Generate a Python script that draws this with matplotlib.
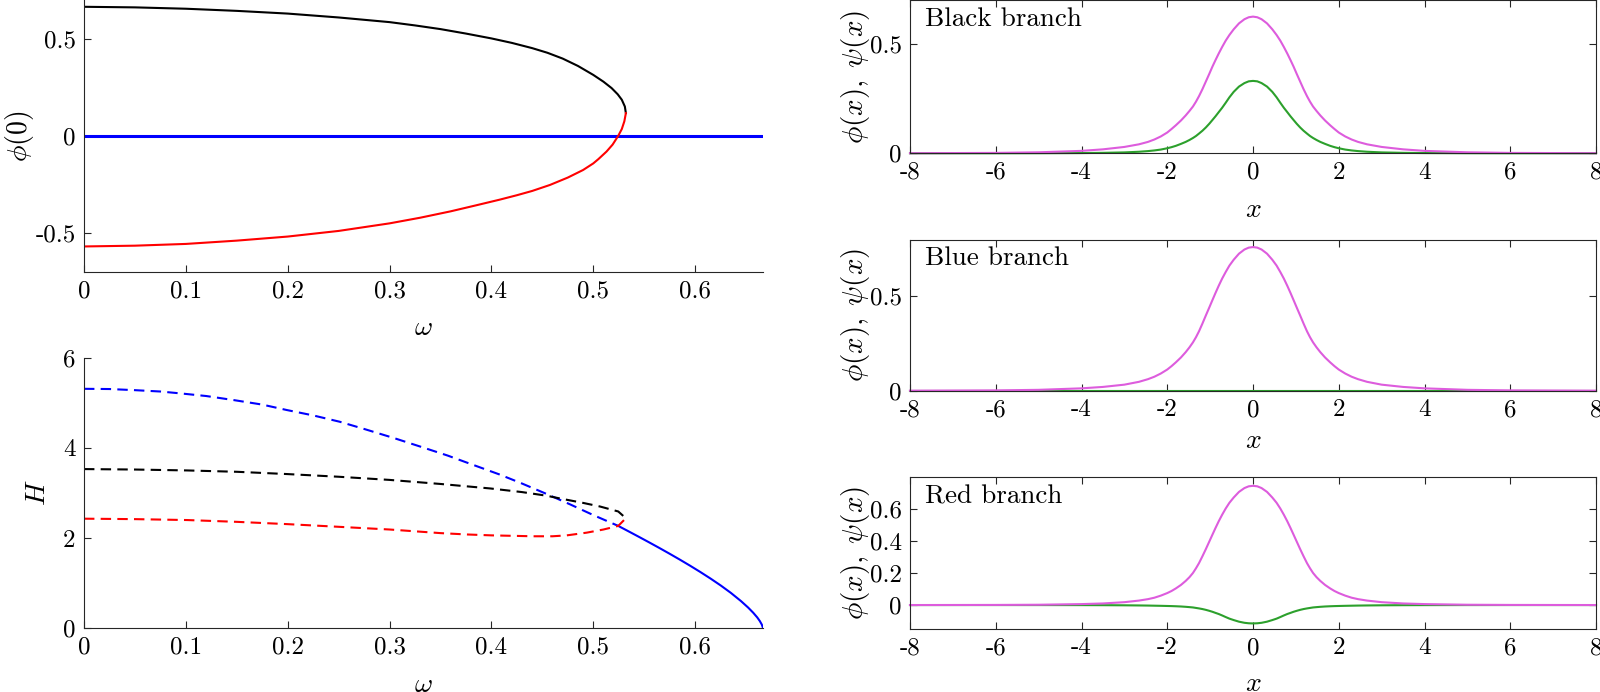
import numpy as np
import matplotlib
matplotlib.use("Agg")
import matplotlib.pyplot as plt
from matplotlib.ticker import FormatStrFormatter

plt.rcParams['font.family'] = 'serif'
plt.rcParams['font.serif'] = ['cmr10']
plt.rcParams['mathtext.fontset'] = 'cm'
plt.rcParams['axes.unicode_minus'] = False
plt.rcParams['axes.formatter.use_mathtext'] = False

# ---------------- data: phi(0) vs omega ----------------
omega_black = [0.000, 0.050, 0.100, 0.150, 0.200, 0.250, 0.300, 0.325, 0.350, 0.375, 0.400, 0.420,
               0.440, 0.455, 0.470, 0.485, 0.500, 0.510, 0.518, 0.524, 0.528, 0.531, 0.532]
phi0_black = [0.665, 0.662, 0.655, 0.644, 0.630, 0.610, 0.586, 0.569, 0.550, 0.527, 0.502, 0.479,
              0.452, 0.428, 0.398, 0.360, 0.314, 0.279, 0.246, 0.214, 0.186, 0.151, 0.117]

omega_red = [0.000, 0.050, 0.100, 0.150, 0.200, 0.250, 0.300, 0.330, 0.360, 0.385, 0.408, 0.425,
             0.440, 0.4575, 0.475, 0.490, 0.500, 0.505, 0.513, 0.519, 0.5245, 0.528, 0.5305, 0.532]
phi0_red = [-0.570, -0.566, -0.557, -0.540, -0.519, -0.490, -0.451, -0.422, -0.389, -0.358, -0.329, -0.306,
            -0.284, -0.253, -0.215, -0.176, -0.142, -0.120, -0.081, -0.045, 0.000, 0.035, 0.075, 0.117]

omega_blue = [0.0, 2.0 / 3.0]
phi0_blue = [0.0, 0.0]

# ---------------- data: H vs omega ----------------
omega_H_blue_dash = [0.000, 0.025, 0.050, 0.075, 0.094, 0.120, 0.147, 0.175, 0.199, 0.225, 0.251, 0.275,
                     0.304, 0.330, 0.357, 0.380, 0.408, 0.430, 0.454, 0.477, 0.500, 0.5245]
H_blue_dash = [5.31, 5.305, 5.28, 5.25, 5.21, 5.15, 5.06, 4.96, 4.84, 4.72, 4.58, 4.42,
               4.22, 4.03, 3.83, 3.64, 3.41, 3.21, 2.98, 2.75, 2.51, 2.27]

omega_H_blue_solid = [0.5245, 0.535, 0.545, 0.555, 0.565, 0.575, 0.585, 0.595, 0.605, 0.615, 0.625,
                      0.635, 0.645, 0.652, 0.657, 0.661, 0.6635, 0.6655, 0.6667]
H_blue_solid = [2.27, 2.145, 2.025, 1.903, 1.779, 1.652, 1.522, 1.388, 1.249, 1.104, 0.951,
                0.786, 0.603, 0.46, 0.345, 0.24, 0.16, 0.08, 0.0]

omega_H_black = [0.000, 0.050, 0.101, 0.150, 0.199, 0.250, 0.300, 0.350, 0.399, 0.430,
                 0.454, 0.467, 0.490, 0.5066, 0.5245, 0.532]
H_black = [3.53, 3.52, 3.50, 3.47, 3.42, 3.36, 3.29, 3.20, 3.10, 3.02,
           2.94, 2.88, 2.78, 2.70, 2.59, 2.44]

omega_H_red = [0.000, 0.050, 0.101, 0.150, 0.199, 0.250, 0.300, 0.350, 0.376, 0.400,
               0.441, 0.460, 0.474, 0.4935, 0.510, 0.5245, 0.532]
H_red = [2.43, 2.42, 2.40, 2.36, 2.31, 2.25, 2.19, 2.11, 2.08, 2.06,
         2.04, 2.04, 2.06, 2.12, 2.19, 2.27, 2.44]

# ---------------- data: profiles phi(x), psi(x) ----------------
x_prof = [-8, -6, -5, -4, -3.5, -3, -2.66, -2.45, -2.3, -2.15, -2, -1.9, -1.8, -1.68, -1.57, -1.48,
          -1.4, -1.33, -1.26, -1.18, -1.1, -1.02, -0.947, -0.875, -0.8, -0.72, -0.637, -0.55, -0.45,
          -0.327, -0.2, -0.1,
          0,
          0.1, 0.2, 0.327, 0.45, 0.55, 0.637, 0.72, 0.8, 0.875, 0.947, 1.02, 1.1, 1.18, 1.26, 1.33,
          1.4, 1.48, 1.57, 1.68, 1.8, 1.9, 2, 2.15, 2.3, 2.45, 2.66, 3, 3.5, 4, 5, 6, 8]

black_phi = ([0.0003, 0.0017, 0.0045, 0.011, 0.018, 0.029, 0.041, 0.052, 0.063, 0.077, 0.095, 0.111,
              0.128, 0.150, 0.173, 0.194, 0.214, 0.236, 0.261, 0.293, 0.328, 0.363, 0.396, 0.426,
              0.456, 0.486, 0.515, 0.541, 0.567, 0.594, 0.613, 0.622]
             + [0.625]
             + [0.622, 0.613, 0.594, 0.567, 0.541, 0.515, 0.486, 0.456, 0.426, 0.396, 0.363, 0.328,
                0.293, 0.261, 0.236, 0.214, 0.194, 0.173, 0.150, 0.128, 0.111, 0.095, 0.077, 0.063,
                0.052, 0.041, 0.029, 0.018, 0.011, 0.0045, 0.0017, 0.0003])
black_psi = ([0.0, 0.0, 0.0003, 0.001, 0.002, 0.004, 0.007, 0.010, 0.013, 0.017, 0.023, 0.028,
              0.034, 0.043, 0.052, 0.061, 0.070, 0.079, 0.090, 0.103, 0.118, 0.135, 0.152, 0.169,
              0.188, 0.208, 0.231, 0.256, 0.281, 0.305, 0.321, 0.329]
             + [0.331]
             + [0.329, 0.321, 0.305, 0.281, 0.256, 0.231, 0.208, 0.188, 0.169, 0.152, 0.135, 0.118,
                0.103, 0.090, 0.079, 0.070, 0.061, 0.052, 0.043, 0.034, 0.028, 0.023, 0.017, 0.013,
                0.010, 0.007, 0.004, 0.002, 0.001, 0.0003, 0.0, 0.0])

blue_phi = ([0.0002, 0.0017, 0.0046, 0.0125, 0.020, 0.032, 0.047, 0.061, 0.074, 0.091, 0.112, 0.130,
             0.150, 0.176, 0.204, 0.230, 0.256, 0.283, 0.314, 0.355, 0.398, 0.440, 0.479, 0.517,
             0.555, 0.593, 0.628, 0.662, 0.693, 0.725, 0.747, 0.757]
            + [0.760]
            + [0.757, 0.747, 0.725, 0.693, 0.662, 0.628, 0.593, 0.555, 0.517, 0.479, 0.440, 0.398,
               0.355, 0.314, 0.283, 0.256, 0.230, 0.204, 0.176, 0.150, 0.130, 0.112, 0.091, 0.074,
               0.061, 0.047, 0.032, 0.020, 0.0125, 0.0046, 0.0017, 0.0002])
blue_psi = [0.0] * 65

red_phi = ([0.0001, 0.0008, 0.002, 0.006, 0.010, 0.018, 0.028, 0.037, 0.046, 0.059, 0.075, 0.088,
            0.104, 0.126, 0.151, 0.175, 0.201, 0.230, 0.262, 0.305, 0.350, 0.397, 0.440, 0.482,
            0.524, 0.565, 0.604, 0.640, 0.673, 0.708, 0.732, 0.743]
           + [0.746]
           + [0.743, 0.732, 0.708, 0.673, 0.640, 0.604, 0.565, 0.524, 0.482, 0.440, 0.397, 0.350,
              0.305, 0.262, 0.230, 0.201, 0.175, 0.151, 0.126, 0.104, 0.088, 0.075, 0.059, 0.046,
              0.037, 0.028, 0.018, 0.010, 0.006, 0.002, 0.0008, 0.0001])
red_psi = ([0.0, 0.0, -0.0001, -0.0004, -0.0008, -0.0016, -0.0025, -0.0032, -0.004, -0.0048, -0.0058,
            -0.0065, -0.0075, -0.009, -0.011, -0.013, -0.015, -0.018, -0.021, -0.025, -0.030, -0.036,
            -0.042, -0.049, -0.056, -0.065, -0.075, -0.085, -0.094, -0.104, -0.111, -0.114]
           + [-0.115]
           + [-0.114, -0.111, -0.104, -0.094, -0.085, -0.075, -0.065, -0.056, -0.049, -0.042, -0.036,
              -0.030, -0.025, -0.021, -0.018, -0.015, -0.013, -0.011, -0.009, -0.0075, -0.0065,
              -0.0058, -0.0048, -0.004, -0.0032, -0.0025, -0.0016, -0.0008, -0.0004, -0.0001, 0.0, 0.0])

panel_titles = ['Black branch', 'Blue branch', 'Red branch']

# ---------------- styling ----------------
AX_COL = '#262626'
TICK_FS = 18
LABEL_FS = 20
TEXT_FS = 19.5
MAGENTA = '#dd5cdd'
GREEN = '#2ca02c'
LW = 1.5


def style(ax, box):
    for s in ['top', 'right']:
        ax.spines[s].set_visible(box)
    for s in ax.spines.values():
        s.set_color(AX_COL)
        s.set_linewidth(0.8)
    ax.tick_params(direction='in', length=5, width=0.8, color=AX_COL,
                   labelsize=TICK_FS, labelcolor='black', top=box, right=box)
    ax.tick_params(axis='x', pad=6)
    ax.tick_params(axis='y', pad=6)
    ax.xaxis.set_major_formatter(FormatStrFormatter('%g'))
    ax.yaxis.set_major_formatter(FormatStrFormatter('%g'))


fig = plt.figure(figsize=(16, 6.92), dpi=100)

ax1 = fig.add_axes([0.0525, 0.6074, 0.4244, 0.3926])
ax2 = fig.add_axes([0.0525, 0.0921, 0.4244, 0.3910])
ax3 = fig.add_axes([0.56875, 0.7785, 0.42875, 0.2212])
ax4 = fig.add_axes([0.56875, 0.4354, 0.42875, 0.2185])
ax5 = fig.add_axes([0.56875, 0.0910, 0.42875, 0.2194])

# top-left
ax1.plot(omega_blue, phi0_blue, color='#0000ff', lw=2.2)
ax1.plot(omega_black, phi0_black, color='black', lw=LW)
ax1.plot(omega_red, phi0_red, color='#ff0000', lw=LW)
ax1.set_xlim(0, 2.0 / 3.0)
ax1.set_ylim(-0.7, 0.7)
ax1.set_xticks([0, 0.1, 0.2, 0.3, 0.4, 0.5, 0.6])
ax1.set_yticks([-0.5, 0, 0.5])
style(ax1, False)
ax1.set_xlabel(r'$\omega$', fontsize=LABEL_FS, va='center')
ax1.xaxis.set_label_coords(0.5, -0.207)
ax1.set_ylabel(r'$\phi(0)$', fontsize=LABEL_FS, va='center')
ax1.yaxis.set_label_coords(-0.0957, 0.5)

# bottom-left
ax2.plot(omega_H_blue_dash, H_blue_dash, color='#0000ff', lw=LW, dashes=(5, 3))
ax2.plot(omega_H_blue_solid, H_blue_solid, color='#0000ff', lw=LW)
ax2.plot(omega_H_black, H_black, color='black', lw=LW, dashes=(5, 3))
ax2.plot(omega_H_red, H_red, color='#ff0000', lw=LW, dashes=(5, 3))
ax2.set_xlim(0, 2.0 / 3.0)
ax2.set_ylim(0, 6)
ax2.set_xticks([0, 0.1, 0.2, 0.3, 0.4, 0.5, 0.6])
ax2.set_yticks([0, 2, 4, 6])
style(ax2, False)
ax2.set_xlabel(r'$\omega$', fontsize=LABEL_FS, va='center')
ax2.xaxis.set_label_coords(0.5, -0.21)
ax2.set_ylabel(r'$H$', fontsize=LABEL_FS, va='center')
ax2.yaxis.set_label_coords(-0.068, 0.5)

# right panels
profiles = [(ax3, black_phi, black_psi, (0, 0.7), [0, 0.5], -0.37),
            (ax4, blue_phi, blue_psi, (0, 0.8), [0, 0.5], -0.33),
            (ax5, red_phi, red_psi, (-0.15, 0.8), [0, 0.2, 0.4, 0.6], -0.36)]
for (ax, phi, psi, ylim, yt, xl), title in zip(profiles, panel_titles):
    ax.plot(x_prof, psi, color=GREEN, lw=LW, clip_on=False)
    ax.plot(x_prof, phi, color=MAGENTA, lw=LW, clip_on=False)
    ax.set_xlim(-8, 8)
    ax.set_ylim(*ylim)
    ax.set_xticks(np.arange(-8, 9, 2))
    ax.set_yticks(yt)
    style(ax, True)
    ax.set_xlabel(r'$x$', fontsize=LABEL_FS, va='center')
    ax.xaxis.set_label_coords(0.5, xl)
    ax.set_ylabel(r'$\phi(x),\;\psi(x)$', fontsize=21, va='center')
    ax.yaxis.set_label_coords(-0.080, 0.5)
    ax.text(0.022, 0.83, title, transform=ax.transAxes, fontsize=TEXT_FS,
            ha='left', va='baseline')

fig.savefig('out.png', dpi=100)
